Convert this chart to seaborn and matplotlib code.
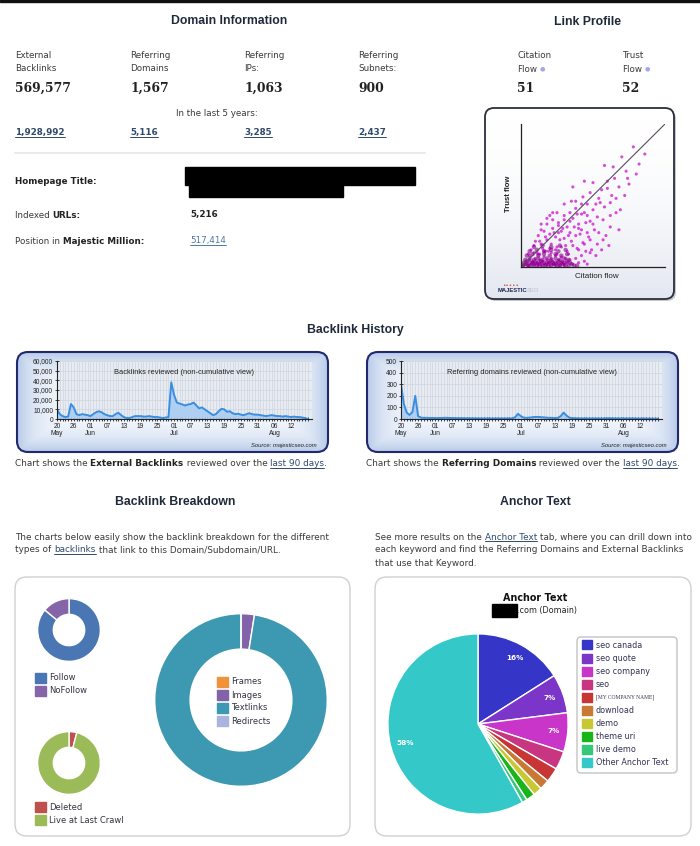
"""Majestic SEO site report recreated with seaborn / matplotlib."""

import matplotlib
matplotlib.use("Agg")
import matplotlib.pyplot as plt
import numpy as np
import pandas as pd
import seaborn as sns
from matplotlib.colors import LinearSegmentedColormap
from matplotlib.patches import FancyBboxPatch, Rectangle


W, H = 700, 846

# ---- data -------------------------------------------------------------
stat_labels = [("External", "Backlinks"), ("Referring", "Domains"),
               ("Referring", "IPs:"), ("Referring", "Subnets:")]
stat_values = ["569,577", "1,567", "1,063", "900"]
stat_values_5y = ["1,928,992", "5,116", "3,285", "2,437"]
indexed_urls = "5,216"
majestic_million = "517,414"
citation_flow = "51"
trust_flow = "52"

# dense low-flow core of the citation / trust scatter
cf_core = [1, 3, 5, 7, 9, 11, 13, 15, 17, 19, 21, 23, 25, 27, 29, 31, 33, 35, 37, 39,
           2, 4, 6, 8, 10, 12, 14, 16, 18, 20, 22, 24, 26, 28, 30, 32, 34,
           3, 6, 9, 12, 15, 18, 21, 24, 27, 30, 33,
           4, 8, 12, 16, 20, 24, 28, 32,
           6, 11, 16, 21, 26, 31,
           9, 15, 21, 27]
tf_core = [1, 2, 1, 1, 2, 1, 2, 1, 1, 2, 1, 2, 1, 1, 2, 1, 1, 2, 1, 1,
           3, 4, 3, 3, 4, 3, 4, 3, 3, 4, 3, 3, 4, 3, 3, 4, 3,
           5, 6, 5, 6, 5, 6, 5, 6, 5, 6, 5,
           8, 9, 8, 9, 8, 9, 8, 9,
           11, 12, 11, 12, 11, 12,
           14, 15, 14, 15]
# remaining scatter points
cf_points = [2, 4, 5, 6, 7, 8, 9, 10, 11, 12, 13, 14, 15, 16, 17, 18, 19, 20, 21, 22,
             23, 24, 25, 26, 27, 28, 29, 30, 31, 32, 33, 34, 36, 38, 40, 42, 44, 46,
             3, 5, 8, 10, 12, 14, 16, 18, 20, 22, 24, 26, 28, 30, 6, 9, 13, 17, 21, 25,
             5, 7, 9, 11, 13, 15, 17, 19, 21, 23, 25, 27, 29, 31, 33, 35, 37, 39, 41,
             43, 45, 47, 49, 51, 53, 14, 18, 22, 26, 30, 34, 38, 42, 46, 50, 54, 57,
             59, 62, 36, 43, 50, 53, 57, 48, 39, 58, 63, 69, 68, 73, 80, 70, 78, 86,
             60, 65, 55, 48, 44, 62, 66, 72, 75, 64, 30, 25, 20, 40, 45, 52, 56, 61, 35,
             10, 12, 14, 16, 18, 20, 22, 24, 26, 28, 30, 32, 34, 36, 38, 40, 42, 44, 46, 48,
             12, 16, 20, 24, 28, 32, 36, 40, 44, 48, 14, 18, 22, 26, 30, 34, 38, 42, 46, 50,
             54, 58, 62, 66, 52, 56, 60, 68, 74, 82]
tf_points = [1, 3, 1, 5, 2, 4, 1, 6, 3, 2, 5, 1, 4, 7, 2, 5, 3, 1, 6, 4,
             2, 8, 3, 5, 1, 7, 4, 2, 6, 3, 9, 5, 2, 6, 3, 8, 4, 2,
             2, 1, 3, 2, 1, 3, 2, 1, 3, 2, 1, 2, 3, 1, 8, 10, 9, 11, 10, 9,
             9, 12, 15, 10, 18, 13, 21, 11, 16, 24, 14, 19, 27, 15, 22, 18, 28, 13, 23,
             17, 31, 21, 12, 26, 16, 26, 30, 33, 29, 36, 32, 41, 37, 44, 40, 48, 33,
             22, 28, 56, 49, 59, 35, 19, 19, 37, 71, 50, 40, 26, 67, 65, 77, 84, 79,
             55, 62, 45, 52, 60, 45, 38, 50, 58, 70, 44, 38, 36, 27, 11, 8, 12, 15, 46,
             18, 22, 16, 25, 19, 23, 27, 21, 31, 25, 20, 28, 24, 34, 22, 30, 26, 38, 24, 32,
             9, 11, 13, 12, 14, 11, 15, 12, 16, 10, 30, 34, 38, 24, 33, 38, 46, 44, 36, 30,
             24, 42, 36, 48, 44, 54, 60, 56, 62, 72]

history_start = "2011-05-20"
history_tick_labels = ["20\nMay", "26", "01\nJun", "07", "13", "19", "25", "01\nJul",
                       "07", "13", "19", "25", "31", "06\nAug", "12"]
backlinks_reviewed = [
    10000, 5000, 3000, 2000, 2500, 15500, 12000, 5000, 4000, 5000,
    4500, 4000, 3000, 5000, 7000, 8000, 7000, 5000, 4000, 3000,
    3000, 5000, 6500, 4000, 2000, 1000, 1000, 2000, 3000, 3000,
    3000, 2500, 2500, 3000, 2500, 2000, 2000, 1500, 1000, 1500,
    2000, 38000, 25000, 17000, 16000, 15000, 14000, 15000, 15500, 17000,
    14000, 11000, 12000, 10000, 8000, 6000, 4000, 5000, 8000, 10500,
    10000, 7500, 8000, 6000, 5000, 5500, 4500, 4000, 5000, 6000,
    5000, 4500, 4500, 4000, 3500, 3000, 3500, 4000, 3500, 3000,
    3000, 2500, 3000, 2500, 2000, 2500, 2000, 2000, 1500, 1000, 0]
domains_reviewed = [
    300, 130, 55, 35, 60, 200, 25, 12, 10, 10,
    9, 9, 8, 8, 9, 10, 10, 9, 8, 8,
    7, 7, 7, 6, 6, 6, 6, 5, 5, 5,
    5, 5, 5, 5, 5, 5, 5, 5, 5, 6,
    15, 45, 25, 12, 10, 12, 15, 18, 18, 16,
    14, 12, 10, 10, 8, 10, 25, 55, 30, 12,
    8, 7, 6, 5, 5, 5, 5, 5, 5, 5,
    5, 5, 6, 7, 6, 5, 5, 5, 5, 5,
    5, 5, 5, 4, 4, 4, 4, 4, 3, 3, 3]

follow_labels = ["Follow", "NoFollow"]
follow_values = [86, 14]
crawl_labels = ["Deleted", "Live at Last Crawl"]
crawl_values = [4, 96]
link_type_labels = ["Frames", "Images", "Textlinks", "Redirects"]
link_type_values = [0, 2.5, 97.5, 0]

anchor_labels = ["seo canada", "seo quote", "seo company", "seo", "[MY COMPANY NAME]",
                 "download", "demo", "theme uri", "live demo", "Other Anchor Text"]
anchor_values = [16, 7, 7, 3.3, 2.6, 1.8, 1.6, 1.6, 0.9, 58.2]
anchor_colors = ["#3535c8", "#7b35c8", "#c835c8", "#c83580", "#c83535",
                 "#c87a35", "#c8c835", "#18b418", "#35c87a", "#35c8c8"]

TEXT = "#3a3a3a"
HEAD = "#1e2a3a"
LINK = "#2f4a6e"
BODY = 6.4

# ---- figure -------------------------------------------------------------
sns.set_theme(style="white")
plt.rcParams["font.family"] = ["DejaVu Sans"]

fig = plt.figure(figsize=(W / 100, H / 100), dpi=100)
bg = fig.add_axes([0, 0, 1, 1])
bg.set_zorder(-5)
bg.axis("off")
renderer = fig.canvas.get_renderer()


def reset_bg():
    bg.set_xlim(0, W)
    bg.set_ylim(H, 0)


reset_bg()


def add_axes_px(x0, y0, x1, y1):
    return fig.add_axes([x0 / W, 1 - y1 / H, (x1 - x0) / W, (y1 - y0) / H])


def txt(x, y, s, size=6.3, weight="normal", color=TEXT, ha="left", family="DejaVu Sans", **kw):
    return bg.text(x, y, s, fontsize=size, fontweight=weight, color=color, ha=ha,
                   va="center", family=family, **kw)


def underline(t, x, y, size, color):
    width = t.get_window_extent(renderer).width
    bg.plot([x, x + width], [y + size * 0.62, y + size * 0.62], color=color, lw=0.7)
    return width


def runs(x, y, parts, size=BODY):
    """Writes text pieces one after another: style 'b' bold, 'u' link."""
    for s, style in parts:
        weight = "bold" if "b" in style else "normal"
        color = LINK if "u" in style else ("#222222" if "b" in style else TEXT)
        t = txt(x, y, s, size=size, weight=weight, color=color)
        if "u" in style:
            x += underline(t, x, y, size, color)
        else:
            x += t.get_window_extent(renderer).width


def title(x, y, s):
    txt(x, y, s, size=8.8, weight="bold", color=HEAD, ha="center", family="Liberation Sans")


def gradient_box(x0, y0, x1, y1, inner, outer, ec, lw, rounding, mode="frame"):
    patch = FancyBboxPatch((x0, y0), x1 - x0, y1 - y0,
                           boxstyle=f"round,pad=0,rounding_size={rounding}",
                           fc="none", ec=ec, lw=lw, zorder=3)
    bg.add_patch(patch)
    u = np.linspace(-1, 1, 200)
    v = np.linspace(-1, 1, 100)
    if mode == "frame":
        mix = np.maximum(np.abs(u)[None, :] ** 8, np.abs(v)[:, None] ** 3)
    else:
        mix = np.repeat(((v + 1) / 2)[:, None] ** 2, 200, axis=1)
    cmap = LinearSegmentedColormap.from_list("g", [inner, outer])
    im = bg.imshow(mix, cmap=cmap, extent=(x0, x1, y1, y0), aspect="auto",
                   zorder=1, vmin=0, vmax=1)
    im.set_clip_path(patch)
    reset_bg()


# top border
bg.add_patch(Rectangle((0, 0), W, 2.5, color="#111111"))

# ---- Domain Information ----------------------------------------------------
title(229, 21, "Domain Information")
for i, x in enumerate([15, 130, 244, 358]):
    txt(x, 56, stat_labels[i][0])
    txt(x, 68.5, stat_labels[i][1])
    txt(x, 88, stat_values[i], size=8.9, weight="bold", color="#222222", family="DejaVu Serif")
    t = txt(x, 133, stat_values_5y[i], weight="bold", color=LINK)
    underline(t, x, 133, 6.3, LINK)
txt(217, 113, "In the last 5 years:", ha="center")
bg.plot([15, 425], [153, 153], color="#e6e6e6", lw=1.2)

txt(15, 182, "Homepage Title:", weight="bold", color="#222222")
bg.add_patch(Rectangle((185, 167), 230, 18, color="black"))
bg.add_patch(Rectangle((189, 183), 154, 14, color="black"))
runs(15, 215, [("Indexed ", ""), ("URLs:", "b")], size=6.3)
txt(190, 215, indexed_urls, weight="bold", color="#222222")
runs(15, 241, [("Position in ", ""), ("Majestic Million:", "b")], size=6.3)
t = txt(190, 241, majestic_million, color="#4e77a6")
underline(t, 190, 241, 6.3, "#4e77a6")

# ---- Link Profile ----------------------------------------------------------
title(588, 22, "Link Profile")
for x, a, b, val in [(517, "Citation", "Flow", citation_flow), (622, "Trust", "Flow", trust_flow)]:
    txt(x, 56, a)
    t = txt(x, 69, b)
    w = t.get_window_extent(renderer).width
    txt(x + w + 3, 68.5, "\u25cf", size=4.5, color="#a4a6e6")
    txt(x, 89, val, size=8.9, weight="bold", color="#222222", family="DejaVu Serif")

bg.add_patch(FancyBboxPatch((487, 110), 189, 191, boxstyle="round,pad=0,rounding_size=9",
                            fc="#c4c7cf", ec="none", zorder=0))
gradient_box(485, 108, 674, 299, "#ffffff", "#e3e7f0", "#2b2f3a", 1.3, 9, mode="vertical")
sax = add_axes_px(521, 124, 665, 267)
sax.set_facecolor("none")
sns.scatterplot(x=cf_points, y=tf_points, ax=sax, color="#cc00cc", s=5, alpha=0.7,
                edgecolor="none")
sns.scatterplot(x=cf_core, y=tf_core, ax=sax, color="#8a008a", s=10, alpha=0.6,
                edgecolor="none")
sax.plot([0, 100], [0, 100], color="#5a4a5e", lw=0.8)
sax.set_xlim(0, 100)
sax.set_ylim(0, 100)
sax.set_xticks([])
sax.set_yticks([])
for side in ["top", "right"]:
    sax.spines[side].set_visible(False)
for side in ["left", "bottom"]:
    sax.spines[side].set_color("#222222")
    sax.spines[side].set_linewidth(0.9)
txt(509, 194, "Trust flow", size=5.6, weight="bold", ha="center", rotation=90,
    family="Liberation Sans", color="#222222")
txt(597, 277, "Citation flow", size=5.8, ha="center", family="Liberation Sans", color="#222222")
txt(511, 286, "\u2022\u2022\u2022\u2022\u2022", size=4, ha="center", color="#d04040")
txt(498, 291, "MAJESTIC", size=4.2, weight="bold", color="#1d2b55", family="Liberation Sans")
txt(527, 291, "SEO", size=4.2, weight="bold", color="#c8ccd6", family="Liberation Sans")

# ---- Backlink History ----------------------------------------------------
title(355, 330, "Backlink History")


def history_chart(box, plot, values, ymax, ystep, label_fmt, chart_title):
    x0, y0, x1, y1 = box
    gradient_box(x0, y0, x1, y1, "#f4f7fc", "#b8cbe9", "#22286e", 1.5, 11)
    ax = add_axes_px(*plot)
    df = pd.DataFrame({"date": pd.date_range(history_start, periods=len(values)),
                       "count": values})
    ax.set_facecolor("#e8ecf2")
    ax.fill_between(df["date"], df["count"], color="#a9cdf3", alpha=0.9, lw=0)
    sns.lineplot(data=df, x="date", y="count", ax=ax, color="#3a8ee2", lw=1.4)
    ax.set_xlim(df["date"].iloc[0], df["date"].iloc[-1] + pd.Timedelta(days=1.5))
    ax.set_ylim(0, ymax)
    ax.set_xticks(df["date"].iloc[::6][:len(history_tick_labels)])
    ax.set_xticklabels(history_tick_labels, fontsize=4.8, family="Liberation Sans",
                       color="#222222", linespacing=0.95)
    ax.set_xticks(df["date"], minor=True)
    yt = np.arange(0, ymax + 1, ystep)
    ax.set_yticks(yt)
    ax.set_yticklabels([label_fmt.format(v) for v in yt], fontsize=4.8,
                       family="Liberation Sans", color="#222222")
    ax.grid(True, which="both", axis="x", color="#d2d8e1", lw=0.6)
    ax.grid(True, which="major", axis="y", color="#d2d8e1", lw=0.6)
    ax.set_axisbelow(True)
    ax.tick_params(which="both", bottom=True, left=True, direction="inout",
                   color="#222222", width=0.6, pad=1)
    ax.tick_params(which="major", length=3.5)
    ax.tick_params(which="minor", length=2.5)
    for side in ["top", "right"]:
        ax.spines[side].set_visible(False)
    for side in ["left", "bottom"]:
        ax.spines[side].set_color("#222222")
        ax.spines[side].set_linewidth(0.8)
    ax.set_xlabel("")
    ax.set_ylabel("")
    ax.text(0.5, 0.8, chart_title, transform=ax.transAxes, ha="center", va="center",
            fontsize=5.4, family="Liberation Sans", color="#222222")
    txt(x1 - 11, y1 - 6.5, "Source: majesticseo.com", size=4.2, ha="right",
        family="Liberation Sans", style="italic", color="#222222")


history_chart((17, 352, 328, 452), (57, 361, 312, 419), backlinks_reviewed, 60000, 10000,
              "{:,.0f}", "Backlinks reviewed (non-cumulative view)")
history_chart((367, 352, 678, 452), (401, 361, 662, 419), domains_reviewed, 500, 100,
              "{:.0f}", "Referring domains reviewed (non-cumulative view)")

runs(15, 464, [("Chart shows the ", ""), ("External Backlinks", "b"),
               (" reviewed over the ", ""), ("last 90 days", "u"), (".", "")])
runs(366, 464, [("Chart shows the ", ""), ("Referring Domains", "b"),
                (" reviewed over the ", ""), ("last 90 days", "u"), (".", "")])

# ---- Backlink Breakdown --------------------------------------------------
title(175, 502, "Backlink Breakdown")
runs(15, 537, [("The charts below easily show the backlink breakdown for the different", "")])
runs(15, 550, [("types of ", ""), ("backlinks", "u"), (" that link to this Domain/Subdomain/URL.", "")])

bg.add_patch(FancyBboxPatch((15, 577), 335, 259, boxstyle="round,pad=0,rounding_size=12",
                            fc="white", ec="#d0d0d0", lw=1))


def donut(cx, cy, r, values, colors, width):
    ax = add_axes_px(cx - r, cy - r, cx + r, cy + r)
    ax.pie(values, colors=colors, startangle=90, counterclock=False,
           wedgeprops=dict(width=width, edgecolor="white", linewidth=1))
    ax.set_xlim(-1.02, 1.02)
    ax.set_ylim(-1.02, 1.02)
    ax.set_facecolor("none")
    return ax


def legend_rows(x, y0, step, labels, colors, size=6):
    for i, (lab, col) in enumerate(zip(labels, colors)):
        y = y0 + i * step
        bg.add_patch(Rectangle((x, y - 5), 11, 10, color=col))
        txt(x + 14, y, lab, size=size, color="#333344")


follow_colors = ["#4a77b4", "#8565a8"]
crawl_colors = ["#c0504d", "#9bbb59"]
link_type_colors = ["#f0923a", "#8262a8", "#3d98b1", "#aab4dc"]

donut(69, 630, 32, follow_values, follow_colors, 0.5)
legend_rows(35, 678, 12.8, follow_labels, follow_colors)
donut(69, 763, 32, crawl_values, crawl_colors, 0.5)
legend_rows(35, 807, 13.5, crawl_labels, crawl_colors)
donut(241, 700, 88, link_type_values, link_type_colors, 0.41)
legend_rows(217, 682, 13, link_type_labels, link_type_colors)

# ---- Anchor Text ---------------------------------------------------------
title(535, 502, "Anchor Text")
runs(375, 537, [("See more results on the ", ""), ("Anchor Text", "u"),
                (" tab, where you can drill down into", "")])
runs(375, 550, [("each keyword and find the Referring Domains and External Backlinks", "")])
runs(375, 563, [("that use that Keyword.", "")])

bg.add_patch(FancyBboxPatch((375, 577), 316, 259, boxstyle="round,pad=0,rounding_size=12",
                            fc="white", ec="#d0d0d0", lw=1))
txt(535, 598, "Anchor Text", size=6.9, weight="bold", ha="center", color="#111111")
bg.add_patch(Rectangle((492, 604), 25, 13, color="black"))
txt(517, 611, ".com (Domain)", size=5.8, color="#222222")

pax = add_axes_px(478 - 91, 724 - 91, 478 + 91, 724 + 91)
pax.pie(anchor_values, colors=anchor_colors, startangle=90, counterclock=False,
        autopct=lambda p: f"{p:.0f}%" if p >= 5 else "", pctdistance=0.84,
        wedgeprops=dict(edgecolor="white", linewidth=1),
        textprops=dict(color="white", fontsize=5.2, fontweight="bold"))
pax.set_xlim(-1.01, 1.01)
pax.set_ylim(-1.01, 1.01)
pax.set_facecolor("none")

bg.add_patch(FancyBboxPatch((577, 637), 100, 136, boxstyle="round,pad=0,rounding_size=4",
                            fc="white", ec="#c4c4c4", lw=1))
for i, (lab, col) in enumerate(zip(anchor_labels, anchor_colors)):
    y = 645 + i * 13.1
    bg.add_patch(Rectangle((582, y - 4.5), 10, 9, color=col))
    if lab.startswith("["):
        txt(596, y, lab, size=4.0, color="#333344", family="Liberation Serif")
    else:
        txt(596, y, lab, size=5.8, color="#333355")

fig.savefig("out.png", dpi=100)
